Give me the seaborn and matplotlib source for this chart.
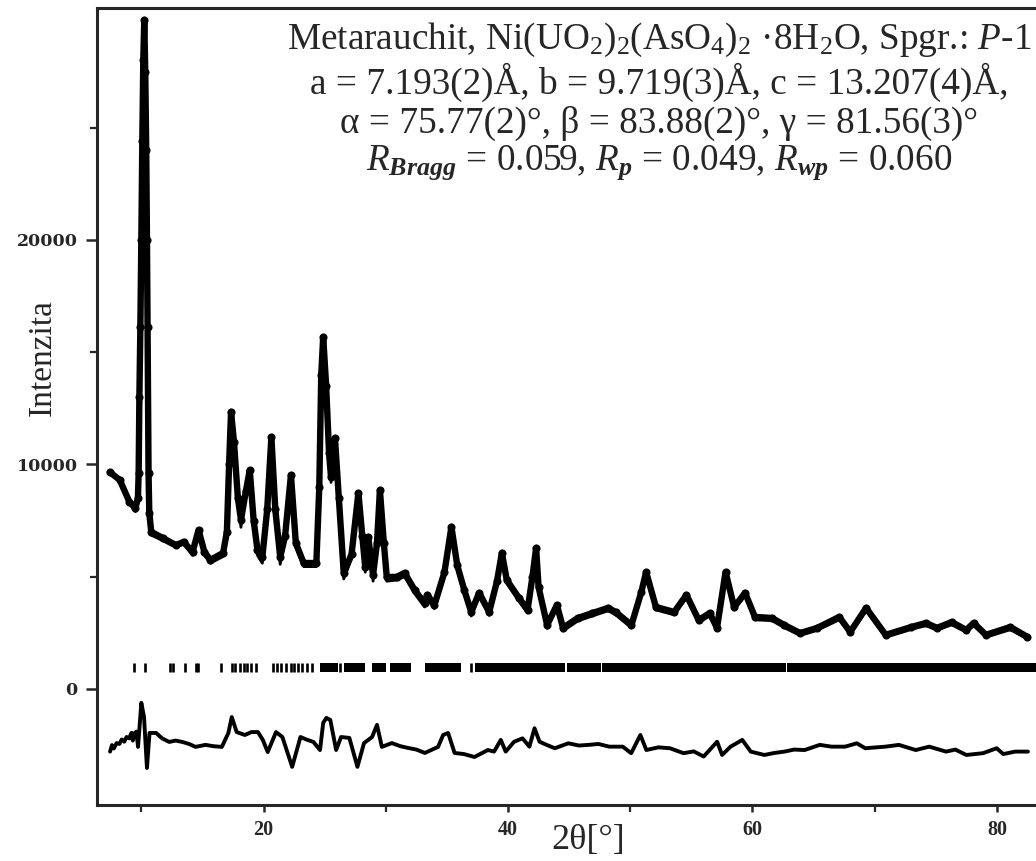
import pandas as pd
import seaborn as sns
import matplotlib.pyplot as plt
from matplotlib.ticker import FixedLocator

# Pozorovany profil (2theta, intenzita)
two_theta = [7.42, 8.23, 9.03, 9.52, 9.72, 9.78, 9.84, 9.92, 10.0, 10.08,
             10.16, 10.24, 10.32, 10.4, 10.46, 10.51, 10.59, 10.65, 10.81, 11.77,
             12.82, 13.47, 14.19, 14.68, 15.16, 15.65, 16.69, 17.0, 17.18, 17.34,
             17.58, 17.9, 18.15, 18.55, 18.87, 19.19, 19.5, 19.9, 20.3, 20.64,
             20.96, 21.36, 21.76, 22.24, 22.64, 23.28, 24.32, 24.56, 24.72, 24.88,
             25.12, 25.36, 25.52, 25.84, 26.16, 26.56, 27.2, 27.76, 28.08, 28.32,
             28.56, 28.96, 29.28, 29.52, 29.84, 30.08, 30.89, 31.54, 32.36, 33.17,
             33.41, 33.98, 34.8, 35.37, 35.85, 36.42, 36.99, 37.64, 38.46, 39.1,
             39.5, 39.9, 40.9, 41.6, 42.0, 42.3, 42.5, 43.2, 44.0, 44.5,
             45.7, 46.9, 48.2, 48.8, 50.1, 50.9, 51.3, 52.1, 53.6, 54.6,
             55.6, 56.5, 57.1, 57.8, 58.5, 59.4, 60.2, 61.6, 62.6, 63.9,
             65.3, 67.1, 68.0, 69.3, 70.9, 73.0, 74.2, 75.1, 76.3, 77.5,
             78.1, 79.1, 81.1, 82.5]

i_obs = [9660, 9310, 8330, 8060, 8500, 9600, 13000, 16100, 20000, 24400,
         28000, 29800, 27500, 24000, 20000, 16100, 9600, 7840, 7000, 6720,
         6410, 6550, 6100, 7080, 6100, 5750, 6060, 7000, 10000, 12340,
         11000, 8500, 7530, 8800, 9750, 7500, 6200, 5880, 8000, 11220,
         8000, 5880, 6800, 9530, 6500, 5610, 5610, 9000, 14000, 15680,
         13500, 10500, 9440, 11180, 8500, 5170, 6000, 8730, 6800, 5430,
         6770, 5080, 6500, 8860, 6500, 4990, 4990, 5170, 4410, 3830,
         4190, 3740, 5200, 7220, 5500, 4410, 3430, 4280, 3430, 4800,
         6060, 4850, 4050, 3520, 5000, 6280, 4540, 2850, 3740, 2720,
         3160, 3380, 3610, 3430, 2850, 4300, 5210, 3650, 3430, 4190,
         3070, 3380, 2720, 5210, 3650, 4280, 3210, 3160, 2850, 2490,
         2720, 3210, 2540, 3610, 2410, 2760, 2940, 2720, 2980, 2630,
         2940, 2410, 2760, 2320]

# Vypocteny profil
i_calc = [9600, 9250, 8250, 7900, 8300, 9300, 12000, 15000, 19000, 23500,
          27500, 29000, 27800, 25000, 21000, 16500, 9900, 7700, 6850, 6600,
          6300, 6450, 5950, 6900, 5950, 5600, 5900, 6700, 9500, 12000,
          11100, 8300, 7200, 8600, 9600, 7300, 5950, 5600, 7800, 11000,
          7800, 5550, 6600, 9400, 6300, 5450, 5450, 8700, 13600, 15300,
          13300, 10400, 9200, 11000, 8300, 4900, 5800, 8600, 6600, 5200,
          6600, 4800, 6300, 8700, 6300, 4800, 4850, 5000, 4250, 3650,
          4000, 3580, 5000, 7000, 5350, 4250, 3250, 4100, 3280, 4650,
          5900, 4700, 3900, 3380, 4850, 6100, 4400, 2700, 3600, 2580,
          3020, 3250, 3480, 3300, 2720, 4150, 5050, 3520, 3300, 4050,
          2940, 3250, 2600, 5050, 3520, 4150, 3080, 3040, 2730, 2380,
          2610, 3080, 2430, 3480, 2300, 2650, 2820, 2610, 2860, 2520,
          2820, 2300, 2640, 2220]

# Rozdilova krivka (Iobs - Icalc, posunuta)
diff_two_theta = [7.44, 7.6, 7.75, 7.98, 8.2, 8.4, 8.6, 8.79, 9.0, 9.2,
                  9.3, 9.46, 9.6, 9.73, 10.0, 10.22, 10.46, 10.67, 11.21, 11.7,
                  12.28, 12.8, 13.36, 13.9, 14.44, 15.24, 15.9, 16.59, 17.12, 17.4,
                  17.8, 18.47, 19.01, 19.54, 19.94, 20.34, 21.02, 21.54, 22.34, 23.02,
                  23.5, 24.08, 24.62, 24.88, 25.14, 25.46, 25.62, 25.94, 26.34, 27.02,
                  27.68, 28.22, 28.88, 29.28, 29.68, 30.49, 31.2, 31.85, 32.5, 33.2,
                  34.28, 34.69, 35.1, 35.63, 36.4, 37.26, 38.35, 38.86, 39.41, 39.81,
                  40.5, 41.19, 41.75, 42.17, 42.58, 43.2, 43.83, 44.94, 45.8, 46.61,
                  47.4, 48.28, 49.39, 50.08, 50.83, 51.32, 52.3, 53.25, 54.36, 55.2,
                  56.01, 57.11, 57.52, 58.21, 59.17, 59.86, 60.97, 61.8, 62.62, 63.4,
                  64.27, 65.51, 66.47, 67.58, 68.54, 69.23, 70.88, 71.98, 73.36, 74.46,
                  75.84, 76.6, 77.5, 78.87, 79.98, 80.52, 81.49, 82.54]

diff_vals = [-2790, -2500, -2650, -2410, -2450, -2250, -2350, -2140, -2200, -1950,
             -2300, -1960, -1900, -2580, -620, -1250, -3520, -1960, -1960, -2200,
             -2360, -2300, -2360, -2450, -2580, -2490, -2550, -2580, -1960, -1250,
             -1920, -2050, -1920, -1920, -2270, -2810, -1920, -2140, -3470, -2140,
             -2250, -2360, -2720, -1510, -1290, -1380, -1830, -2720, -2140, -2180,
             -3470, -2410, -2140, -1600, -2580, -2410, -2550, -2630, -2700, -2850,
             -2580, -2050, -1960, -2850, -2900, -3030, -2720, -2790, -2270, -2790,
             -2350, -2200, -2570, -1750, -2350, -2500, -2640, -2420, -2520, -2490,
             -2450, -2570, -2570, -2860, -2050, -2720, -2600, -2640, -2860, -2780,
             -3010, -2350, -2940, -2570, -2270, -2790, -2940, -2850, -2790, -2700,
             -2720, -2490, -2570, -2570, -2420, -2640, -2570, -2490, -2720, -2570,
             -2790, -2700, -2940, -2860, -2640, -2900, -2790, -2790]

# Braggovy polohy - jednotlive znacky a souvisle pasy
bragg_ticks = [9.38, 10.27, 12.34, 12.6, 13.57, 14.5, 14.62, 16.53, 17.39, 17.66,
               18.06, 18.39, 18.65, 19.0, 19.41, 20.74, 21.14, 21.42, 21.82, 22.22,
               22.48, 22.8, 23.14, 23.54, 23.94, 26.25, 36.96]
band_start = [24.62, 26.58, 28.9, 30.33, 33.17, 37.31, 44.82, 47.72, 62.85]
band_end = [26.06, 28.32, 30.05, 32.09, 36.15, 44.70, 47.60, 62.75, 84.0]

x_major = [20, 40, 60, 80]
x_minor = [10, 30, 50, 70]
y_major = [0, 10000, 20000]
y_minor = [5000, 15000, 25000]

sns.set_style("ticks")
plt.rcParams['font.family'] = ['Liberation Serif', 'DejaVu Serif']
plt.rcParams['mathtext.fontset'] = 'custom'
plt.rcParams['mathtext.rm'] = 'Liberation Serif'
plt.rcParams['mathtext.it'] = 'Liberation Serif:italic'
plt.rcParams['mathtext.bf'] = 'Liberation Serif:bold'
plt.rcParams['mathtext.bfit'] = 'Liberation Serif:italic:bold'

df_obs = pd.DataFrame({'tt': two_theta, 'obs': i_obs, 'calc': i_calc})
df_diff = pd.DataFrame({'tt': diff_two_theta, 'diff': diff_vals})

fig = plt.figure(figsize=(10.36, 8.61), dpi=100)
ax = fig.add_axes([0.0936, 0.065, 0.9064, 0.9257])

sns.lineplot(data=df_obs, x='tt', y='calc', color='black', lw=2.0,
             estimator=None, sort=False, ax=ax)
sns.lineplot(data=df_obs, x='tt', y='obs', color='black', lw=4.6,
             estimator=None, sort=False, ax=ax)
sns.scatterplot(data=df_obs, x='tt', y='obs', color='black', s=34,
                linewidth=0, ax=ax, zorder=3)
sns.lineplot(data=df_diff, x='tt', y='diff', color='black', lw=2.8,
             estimator=None, sort=False, ax=ax)

# Braggovy znacky
ax.vlines(bragg_ticks, 760, 1160, color='black', lw=1.9)
ax.broken_barh([(s, e - s) for s, e in zip(band_start, band_end)], (760, 400),
               facecolor='black', edgecolor='none')

ax.set_xlim(6.37, 83.2)
ax.set_ylim(-5170, 30330)

ax.set_xticks(x_major, [str(v) for v in x_major], fontsize=14.5, fontweight='bold')
ax.set_yticks(y_major, [str(v) for v in y_major], fontsize=12.5, fontweight='bold',
              fontfamily='DejaVu Serif')
ax.xaxis.set_minor_locator(FixedLocator(x_minor))
ax.yaxis.set_minor_locator(FixedLocator(y_minor))

ax.spines['right'].set_visible(False)
for s in ['left', 'bottom', 'top']:
    ax.spines[s].set_linewidth(2.2)

ax.tick_params(axis='y', which='major', length=8, width=1.8, pad=6)
ax.tick_params(axis='y', which='minor', length=5, width=1.6)
ax.tick_params(axis='x', which='major', length=5, width=1.8, pad=6)
ax.tick_params(axis='x', which='minor', length=5, width=1.6)

ax.set_xlabel('2θ[°]', fontsize=26)
ax.set_ylabel('Intenzita', fontsize=24)
ax.xaxis.label.set_va('center')
ax.yaxis.label.set_va('center')
ax.xaxis.set_label_coords(0.523, -0.044)
ax.yaxis.set_label_coords(-0.058, 0.562)

# Popis struktury
title_lines = [
    r"Metarauchit, Ni(UO$_2$)$_2$(AsO$_4$)$_2$ ·8H$_2$O, Spgr.: $P$-1",
    "a = 7.193(2)Å, b = 9.719(3)Å, c = 13.207(4)Å,",
    "α = 75.77(2)°, β = 83.88(2)°, γ = 81.56(3)°",
    r"$R_{\mathbfit{Bragg}}$ = 0.059, $R_{\mathbfit{p}}$ = 0.049, $R_{\mathbfit{wp}}$ = 0.060",
]
title_y = [40, 82, 123, 163]
for txt, ypx in zip(title_lines, title_y):
    fig.text(0.636, 1 - ypx / 861, txt, ha='center', va='center', fontsize=26.8)

plt.savefig('out.png', dpi=100)
